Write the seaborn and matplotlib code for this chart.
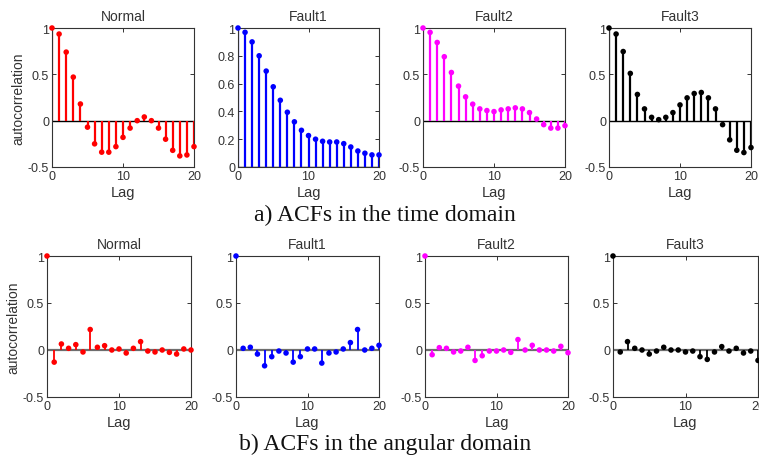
import numpy as np
import pandas as pd
import matplotlib
matplotlib.use("Agg")
import matplotlib.pyplot as plt
import seaborn as sns
from matplotlib.ticker import FormatStrFormatter

# ---------------- data ----------------
lags = list(range(21))
panel_names = ["Normal", "Fault1", "Fault2", "Fault3"]
panel_colors = ["#FF0000", "#0000FF", "#FF00FF", "#000000"]

# a) time domain
time_normal = [1.0, 0.935, 0.74, 0.47, 0.18, -0.07, -0.25, -0.34, -0.34, -0.28, -0.18,
               -0.08, 0.0, 0.04, 0.0, -0.08, -0.20, -0.32, -0.38, -0.37, -0.28]
time_fault1 = [1.0, 0.969, 0.90, 0.80, 0.69, 0.577, 0.48, 0.394, 0.325, 0.264, 0.226,
               0.20, 0.185, 0.18, 0.18, 0.168, 0.144, 0.115, 0.099, 0.087, 0.087]
time_fault2 = [1.0, 0.953, 0.844, 0.69, 0.52, 0.373, 0.257, 0.178, 0.127, 0.109, 0.098,
               0.116, 0.127, 0.138, 0.127, 0.087, 0.018, -0.043, -0.08, -0.08, -0.054]
time_fault3 = [1.0, 0.935, 0.746, 0.51, 0.283, 0.127, 0.036, 0.011, 0.036, 0.087, 0.17,
               0.246, 0.293, 0.304, 0.246, 0.127, -0.043, -0.207, -0.319, -0.344, -0.29]

# b) angular domain
ang_normal = [1.0, -0.129, 0.064, 0.018, 0.057, -0.021, 0.218, 0.029, 0.046, 0.0, 0.011,
              -0.032, 0.018, 0.089, -0.011, -0.021, 0.0, -0.025, -0.043, 0.011, 0.0]
ang_fault1 = [1.0, 0.018, 0.029, -0.043, -0.168, -0.071, -0.011, -0.032, -0.129, -0.071, 0.011,
              0.011, -0.139, -0.032, -0.021, 0.011, 0.079, 0.218, 0.0, 0.018, 0.05]
ang_fault2 = [1.0, -0.05, 0.025, 0.018, -0.021, -0.011, 0.029, -0.111, -0.061, -0.011, -0.011,
              0.0, -0.025, 0.111, 0.0, 0.05, 0.0, 0.0, -0.011, 0.039, -0.029]
ang_fault3 = [1.0, -0.021, 0.089, 0.018, 0.0, -0.043, -0.011, 0.029, 0.0, 0.0, -0.021,
              -0.011, -0.071, -0.1, -0.021, 0.036, -0.011, 0.018, -0.032, -0.011, -0.111]

time_rows = [time_normal, time_fault1, time_fault2, time_fault3]
ang_rows = [ang_normal, ang_fault1, ang_fault2, ang_fault3]

frames = []
for domain, rows in [("time", time_rows), ("angular", ang_rows)]:
    for name, vals in zip(panel_names, rows):
        frames.append(pd.DataFrame({"domain": domain, "panel": name, "lag": lags, "acf": vals}))
df = pd.concat(frames, ignore_index=True)

# ---------------- style ----------------
sns.set_style("ticks")
plt.rcParams["font.family"] = ["Liberation Sans", "DejaVu Sans"]
plt.rcParams["axes.unicode_minus"] = False
plt.rcParams["xtick.direction"] = "in"
plt.rcParams["ytick.direction"] = "in"

W, H = 759, 464
fig = plt.figure(figsize=(W / 100, H / 100), dpi=100)

# axes boxes in pixels: (left, top, right, bottom)
top_boxes = [(52, 29, 194, 168), (238, 29, 379, 168), (423, 29, 565, 168), (609, 29, 751, 168)]
bot_boxes = [(47, 257, 191, 398), (236, 257, 379, 398), (425, 257, 568, 398), (613, 257, 758, 398)]


def px_rect(b):
    l, t, r, bt = b
    return [l / W, 1 - bt / H, (r - l) / W, (bt - t) / H]


def draw_panel(ax, sub, color, domain, name, first):
    ax.vlines(sub["lag"], 0, sub["acf"], color=color, lw=1.6 if domain == "time" else 1.3, zorder=2)
    base_col = "#000000" if domain == "time" else "#6e6e6e"
    ax.plot([0, 20], [0, 0], color=base_col, lw=1.0 if domain == "time" else 1.6, zorder=1)
    sns.scatterplot(data=sub, x="lag", y="acf", ax=ax, color=color, s=16, edgecolor="none",
                    zorder=3, clip_on=False, legend=False)
    ax.set_xlim(0, 20)
    if domain == "time" and name == "Fault1":
        ax.set_ylim(0, 1)
        ax.set_yticks([0, 0.2, 0.4, 0.6, 0.8, 1])
    else:
        ax.set_ylim(-0.5, 1)
        ax.set_yticks([-0.5, 0, 0.5, 1])
    ax.set_xticks([0, 10, 20])
    ax.yaxis.set_major_formatter(FormatStrFormatter("%g"))
    ax.tick_params(axis="both", labelsize=9, length=3, width=0.7, colors="#333333",
                   top=True, right=True, pad=2)
    for sp in ax.spines.values():
        sp.set_visible(True)
        sp.set_linewidth(0.8)
        sp.set_color("#333333")
    ax.set_title(name, fontsize=10, color="#333333", pad=6)
    ax.set_xlabel("Lag", fontsize=10.5, color="#333333", labelpad=2)
    if first:
        ax.set_ylabel("autocorrelation", fontsize=10, color="#333333", labelpad=2)
    else:
        ax.set_ylabel("")


for domain, boxes in [("time", top_boxes), ("angular", bot_boxes)]:
    for i, (name, color) in enumerate(zip(panel_names, panel_colors)):
        ax = fig.add_axes(px_rect(boxes[i]))
        sub = df[(df["domain"] == domain) & (df["panel"] == name)]
        draw_panel(ax, sub, color, domain, name, i == 0)

fig.text(385 / W, 1 - 215 / H, "a) ACFs in the time domain", ha="center", va="center",
         fontsize=17, family="Liberation Serif", color="#111111")
fig.text(385 / W, 1 - 444 / H, "b) ACFs in the angular domain", ha="center", va="center",
         fontsize=17, family="Liberation Serif", color="#111111")

fig.savefig("out.png", dpi=100, facecolor="white")
